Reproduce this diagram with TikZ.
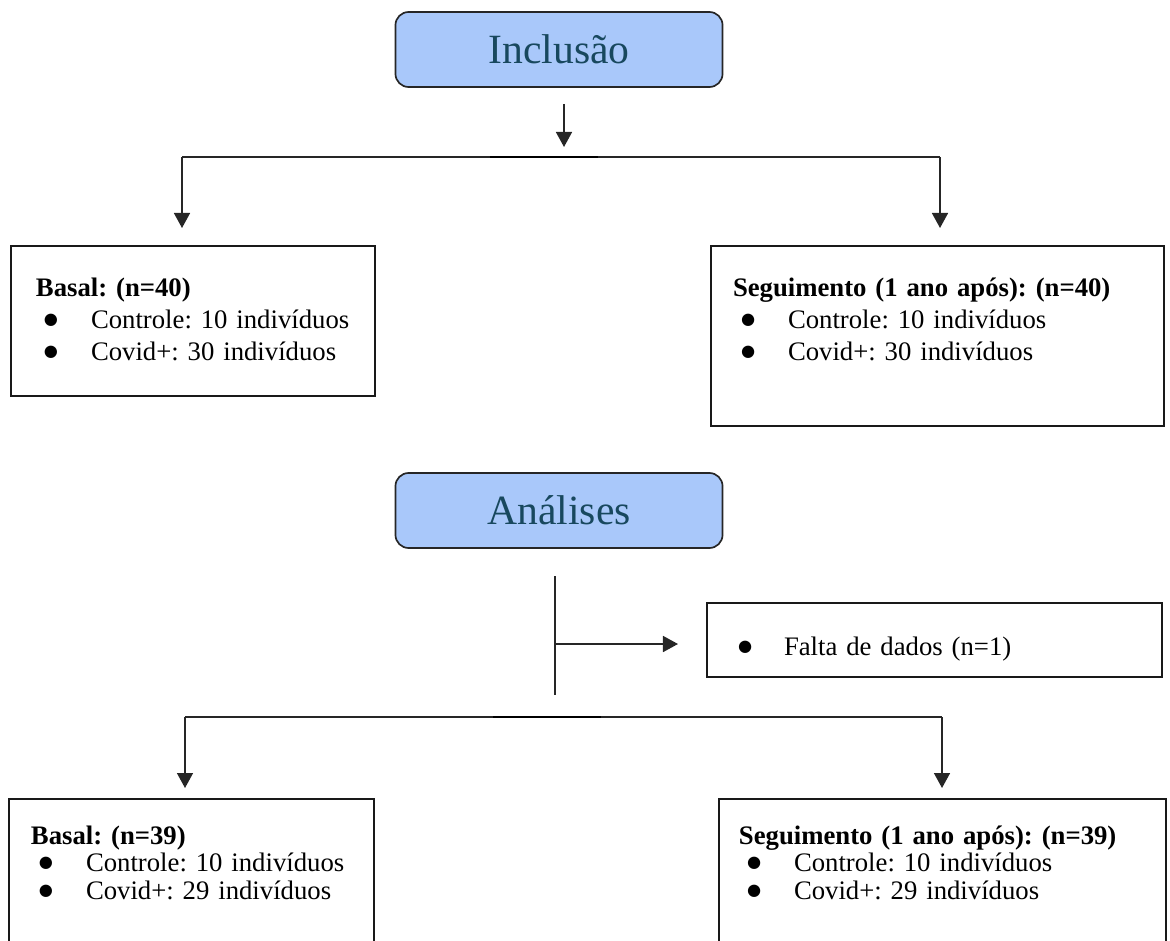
\documentclass[tikz,border=0pt]{standalone}
\usepackage{fontspec}
\setmainfont{Liberation Serif}
\newfontfamily\symfont{DejaVu Sans}
\usepackage{xcolor}
\usetikzlibrary{arrows.meta}
\usetikzlibrary{positioning}
\definecolor{stagefill}{RGB}{169,200,250}
\definecolor{stagetext}{RGB}{24,72,94}
\frenchspacing
\newcommand{\grupodot}{\raisebox{2.5pt}{\symfont\fontsize{11.5}{11.5}\selectfont ●}}
\newcommand{\grupoitem}[1]{\hspace*{0.2cm}\makebox[1.175cm][l]{\grupodot}#1}
\tikzset{
  stagebox/.style={draw=black!85, line width=1.2pt, rounded corners=0.33cm,
    fill=stagefill, text=stagetext, font=\fontsize{29.6}{36}\selectfont,
    minimum width=8.175cm, minimum height=1.875cm, inner sep=0pt},
  groupbox/.style={draw=black!90, line width=1.4pt, anchor=north west,
    align=left, inner ysep=0pt, font=\fontsize{19}{22.76}\selectfont},
  flowline/.style={draw=black!85, line width=1.1pt},
  flowarrow/.style={flowline, -{Triangle[length=0.375cm, width=0.4cm]}}
}
\begin{document}
\begin{tikzpicture}[x=0.025cm, y=-0.025cm]

      \useasboundingbox (0,0) rectangle (1170,940);

      \node [stagebox] (inclusao) at (559,49.5) {Inclusão};

      \node [groupbox, inner xsep=0.625cm, text width=7.85cm,
        text height=1.25cm, text depth=2.5cm] (basalA) at (10,245)
        {\textbf{Basal: (n=40)}\\
         \grupoitem{Controle: 10 indivíduos}\\
         \grupoitem{Covid+: 30 indivíduos}};

      \node [groupbox, inner xsep=0.55cm, text width=10.225cm,
        text height=1.25cm, text depth=3.25cm] (seguimentoA) at (710,245)
        {\textbf{Seguimento (1 ano após): (n=40)}\\
         \grupoitem{Controle: 10 indivíduos}\\
         \grupoitem{Covid+: 30 indivíduos}};

      \coordinate (splitA) at (564,157);
      \coordinate (splitAl) at (182,157);
      \coordinate (splitAr) at (940,157);

      \draw [flowarrow, shorten <=0.4cm, shorten >=0.25cm]
      (splitA |- inclusao.south) -- (splitA);
      \draw [flowline] (splitAl) -- (splitAr);
      \draw [flowline, draw=black, line width=1.8pt]
      ([xshift=-1.85cm]splitA) -- ([xshift=0.85cm]splitA);
      \draw [flowarrow, shorten >=0.425cm] (splitAl) -- (splitAl |- basalA.north);
      \draw [flowarrow, shorten >=0.425cm] (splitAr) -- (splitAr |- seguimentoA.north);

      \node [stagebox] (analises) at (559,510.5) {Análises};

      \node [groupbox, inner xsep=0pt, text width=11.375cm,
        text height=1.3cm, text depth=0.55cm] (falta) at (706,602)
        {\hspace*{0.775cm}\makebox[1.15cm][l]{\grupodot}Falta de dados (n=1)};

      \coordinate (stemtop) at (555,576);
      \coordinate (stembot) at (555,695);
      \coordinate (stemmid) at (555,644);

      \draw [flowline] (stemtop) -- (stembot);
      \draw [flowarrow, shorten >=0.7cm] (stemmid) -- (stemmid -| falta.west);

      \node [groupbox, inner xsep=0.55cm, text width=8.025cm,
        font=\fontsize{19}{19.56}\selectfont,
        text height=1.125cm, text depth=4cm] (basalB) at (8,798)
        {\textbf{Basal: (n=39)}\\
         \grupoitem{Controle: 10 indivíduos}\\
         \grupoitem{Covid+: 29 indivíduos}};

      \node [groupbox, inner xsep=0.5cm, text width=10.175cm,
        font=\fontsize{19}{19.56}\selectfont,
        text height=1.125cm, text depth=4cm] (seguimentoB) at (718,798)
        {\textbf{Seguimento (1 ano após): (n=39)}\\
         \grupoitem{Controle: 10 indivíduos}\\
         \grupoitem{Covid+: 29 indivíduos}};

      \coordinate (splitB) at (555,717);
      \coordinate (splitBl) at (185,717);
      \coordinate (splitBr) at (942,717);

      \draw [flowline] (splitBl) -- (splitBr);
      \draw [flowline, draw=black, line width=1.8pt]
      ([xshift=-1.55cm]splitB) -- ([xshift=1.15cm]splitB);
      \draw [flowarrow, shorten >=0.25cm] (splitBl) -- (splitBl |- basalB.north);
      \draw [flowarrow, shorten >=0.25cm] (splitBr) -- (splitBr |- seguimentoB.north);

    \end{tikzpicture}
\end{document}
